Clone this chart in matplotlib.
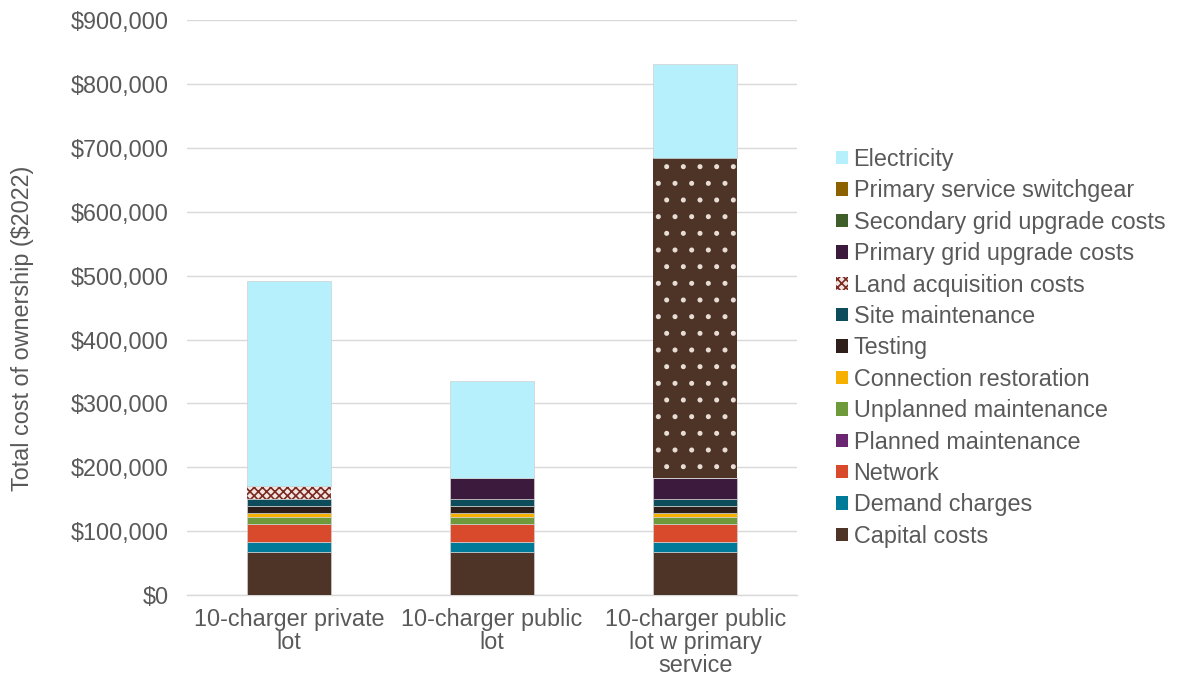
import matplotlib.pyplot as plt
from matplotlib.patches import Patch
from matplotlib.ticker import FuncFormatter, MultipleLocator

plt.rcParams["font.family"] = ["Liberation Sans", "DejaVu Sans"]
plt.rcParams["hatch.linewidth"] = 1.2

categories = ["10-charger private\nlot", "10-charger public\nlot", "10-charger public\nlot w primary\nservice"]

# stack order, bottom to top
components = [
    "Capital costs", "Demand charges", "Network", "Planned maintenance",
    "Unplanned maintenance", "Connection restoration", "Testing", "Site maintenance",
    "Land acquisition costs", "Primary grid upgrade costs", "Secondary grid upgrade costs",
    "Primary service switchgear", "Electricity",
]
values = {
    "Capital costs":                [68000, 68000, 68000],
    "Demand charges":               [15000, 15000, 15000],
    "Network":                      [28500, 28500, 28500],
    "Planned maintenance":          [500, 500, 500],
    "Unplanned maintenance":        [10500, 10500, 10500],
    "Connection restoration":       [6300, 6300, 6300],
    "Testing":                      [11200, 11200, 11200],
    "Site maintenance":             [10000, 11000, 11000],
    "Land acquisition costs":       [21000, 0, 0],
    "Primary grid upgrade costs":   [0, 33000, 33000],
    "Secondary grid upgrade costs": [0, 0, 0],
    "Primary service switchgear":   [0, 0, 501000],
    "Electricity":                  [321000, 151000, 146000],
}
colors = {
    "Capital costs": "#4e3327",
    "Demand charges": "#007a99",
    "Network": "#d9492b",
    "Planned maintenance": "#6a2670",
    "Unplanned maintenance": "#6f9a3c",
    "Connection restoration": "#f5b000",
    "Testing": "#2f1f1a",
    "Site maintenance": "#0d4c5a",
    "Land acquisition costs": "#f3e6e2",
    "Primary grid upgrade costs": "#3b1a3d",
    "Secondary grid upgrade costs": "#3f5e2a",
    "Primary service switchgear": "#8c6200",
    "Electricity": "#b6f0fc",
}

text_color = "#595959"
fs = 16.8

fig, ax = plt.subplots(figsize=(11.77, 6.77), dpi=100)
fig.subplots_adjust(left=0.159, right=0.677, top=0.970, bottom=0.121)

x = range(len(categories))
bottom = [0, 0, 0]
for name in components:
    vals = values[name]
    kw = dict(color=colors[name], edgecolor="#d0d0d0", linewidth=0.5, zorder=3)
    if name == "Land acquisition costs":
        kw.update(edgecolor="#7a2a20", hatch="xxxx", linewidth=0)
    bars = ax.bar(x, vals, 0.415, bottom=bottom, **kw)
    if name == "Primary service switchgear":
        # dotted fill on the switchgear block
        for b in bars:
            b.set_facecolor("#4e3327")
            b.set_edgecolor("#e8ddd5")
            b.set_hatch(".")
            b.set_linewidth(0)
    bottom = [b + v for b, v in zip(bottom, vals)]

ax.set_ylim(0, 900000)
ax.set_xlim(-0.5, 2.5)
ax.yaxis.set_major_locator(MultipleLocator(100000))
ax.yaxis.set_major_formatter(FuncFormatter(lambda v, p: "${:,.0f}".format(v)))
ax.grid(axis="y", color="#d9d9d9", linewidth=1, zorder=0)
ax.set_axisbelow(True)

for s in ["top", "right", "left"]:
    ax.spines[s].set_visible(False)
ax.spines["bottom"].set_color("#d9d9d9")
ax.spines["bottom"].set_linewidth(1)

ax.set_xticks(list(x))
ax.set_xticklabels(categories, fontsize=fs, color=text_color, linespacing=1.0)
ax.tick_params(axis="both", length=0, labelsize=fs, labelcolor=text_color)
ax.tick_params(axis="y", pad=13)
ax.tick_params(axis="x", pad=9)
ax.set_ylabel("Total cost of ownership ($2022)", fontsize=fs, color=text_color)
ax.yaxis.set_label_coords(-0.252, 0.464)

handles = []
for name in reversed(components):
    if name == "Land acquisition costs":
        handles.append(Patch(facecolor=colors[name], edgecolor="#7a2a20", hatch="xxxx", linewidth=0, label=name))
    else:
        handles.append(Patch(facecolor=colors[name], label=name))
leg = ax.legend(handles=handles, loc="center left", bbox_to_anchor=(1.03, 0.43),
                frameon=False, fontsize=fs, handlelength=0.5, handleheight=0.5,
                handletextpad=0.25, labelspacing=0.36, labelcolor=text_color)

fig.savefig("out.png", dpi=100)
